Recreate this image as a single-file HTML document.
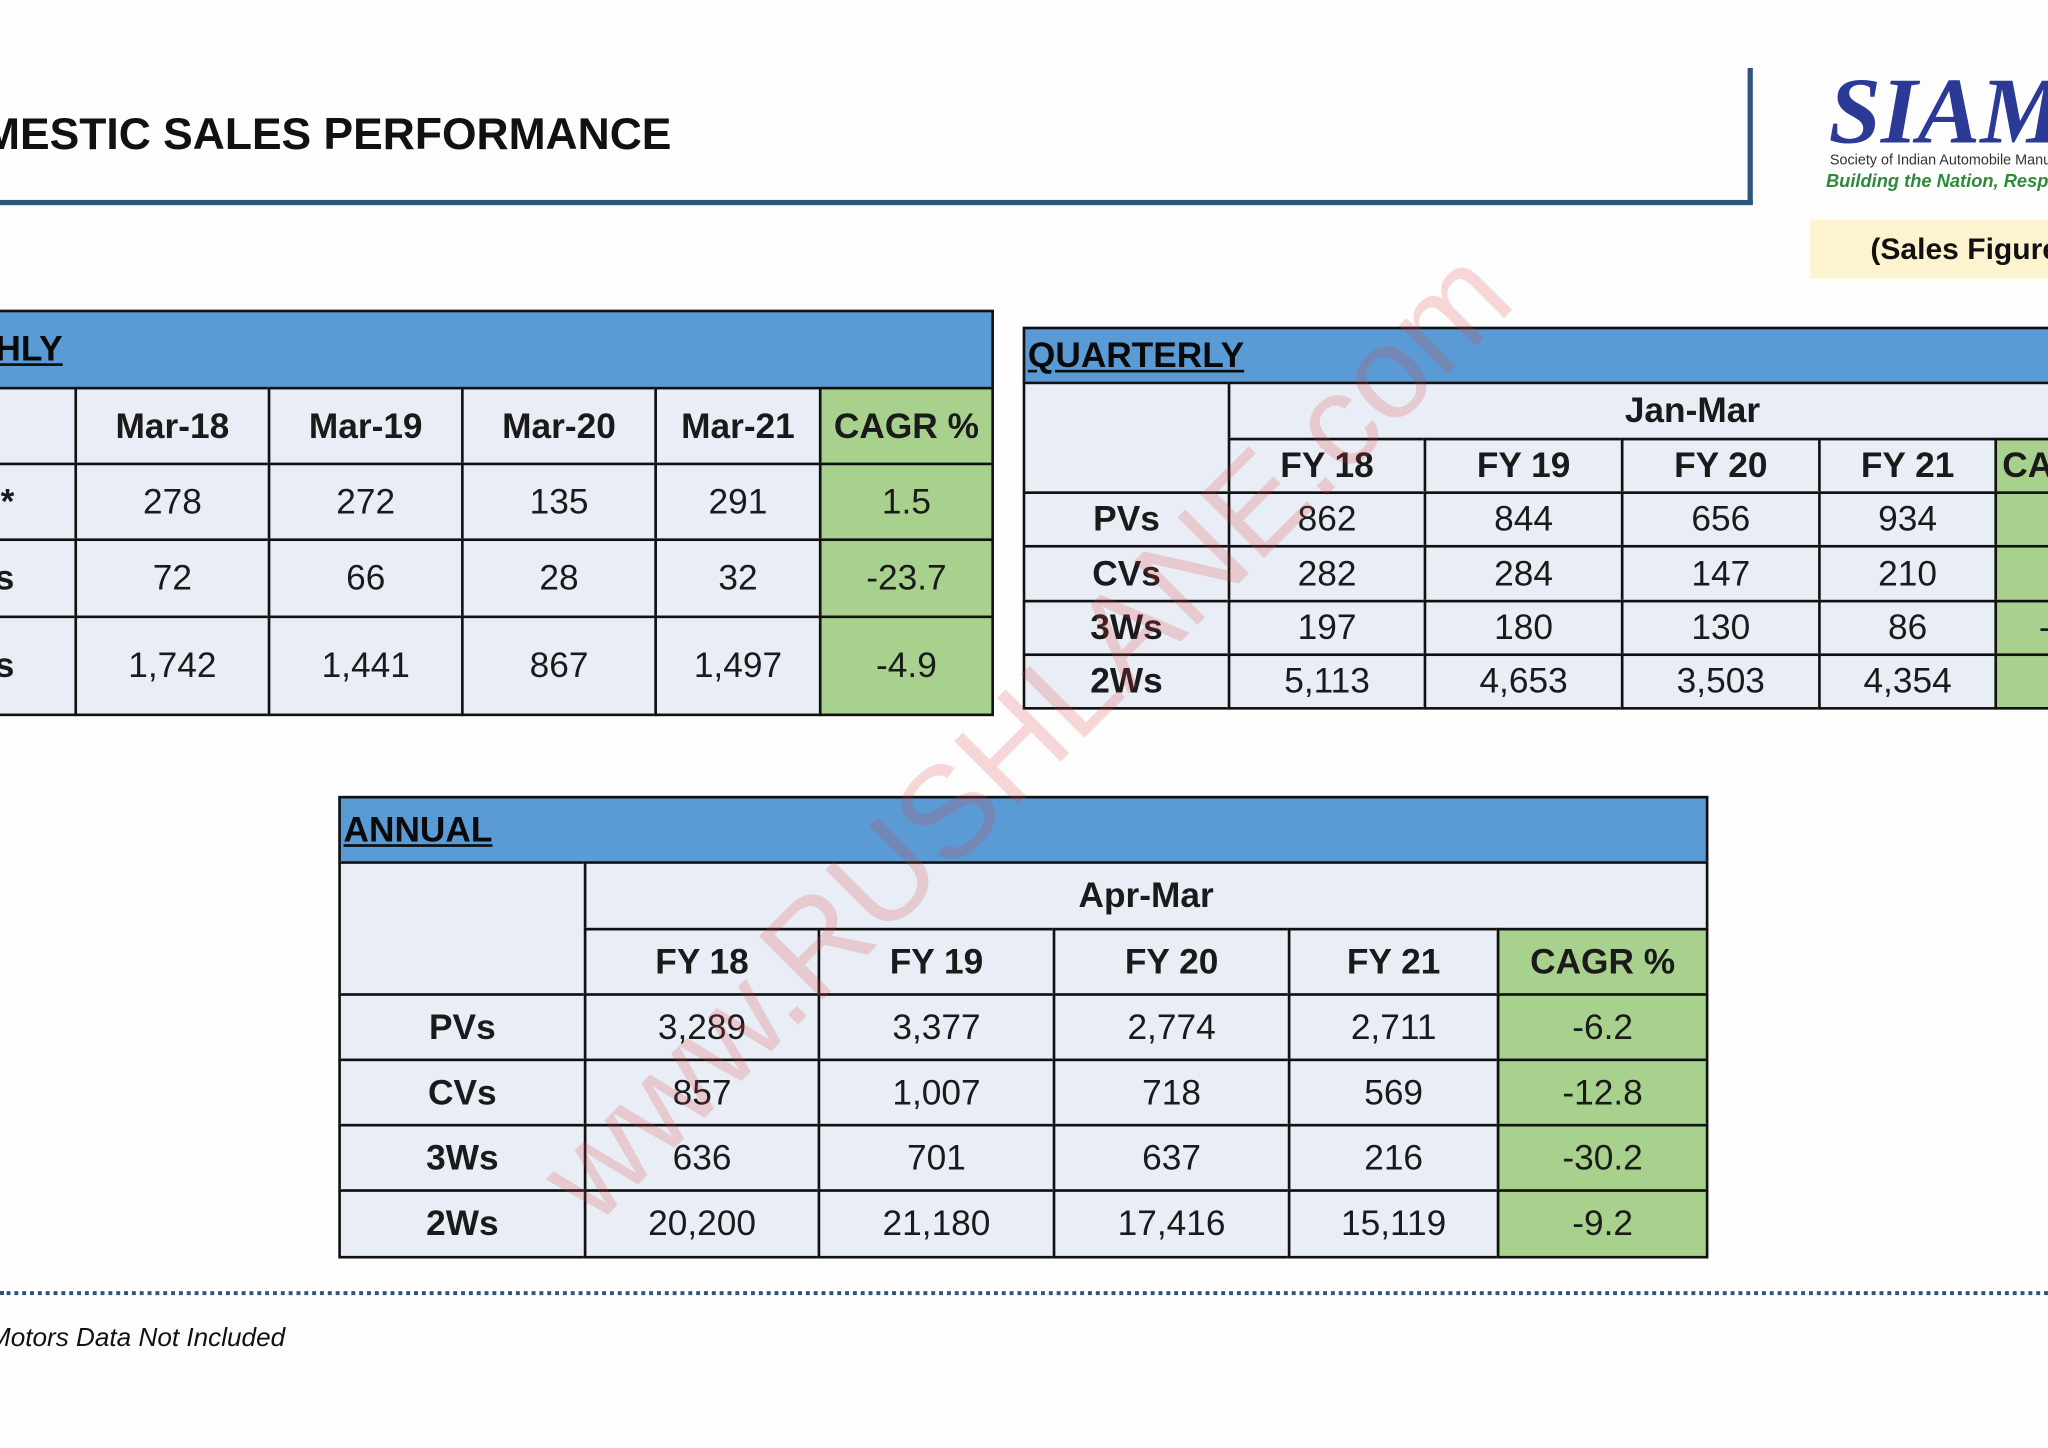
<!DOCTYPE html>
<html><head><meta charset="utf-8">
<style>
html,body{margin:0;padding:0;width:2048px;height:1448px;overflow:hidden;background:#fff;}
#stage{position:absolute;left:0;top:0;width:1568px;height:1108px;transform:scale(1.30612,1.30686);transform-origin:0 0;overflow:hidden;background:#fdfdfd;font-family:"Liberation Sans",Arial,sans-serif;}
.c{position:absolute;box-sizing:border-box;border:2px solid #111;background:#e9eef6;display:flex;align-items:center;justify-content:center;font-size:27px;color:#1a1a1a;white-space:nowrap;overflow:hidden;}
.b{font-weight:bold;}
.g{background:#a9d18e;}
.t{background:#5b9bd5;justify-content:flex-start;font-weight:bold;text-decoration:underline;padding-left:2px;color:#0a0a0a;}
</style></head><body>
<div id="stage">
  <div style="position:absolute;left:-64px;top:84px;font-size:34px;font-weight:bold;color:#111;white-space:nowrap;">DOMESTIC SALES PERFORMANCE</div>
  <div style="position:absolute;left:0;top:153px;width:1342px;height:4px;background:#2d5479;"></div>
  <div style="position:absolute;left:1338px;top:52px;width:4px;height:104px;background:#2d5479;"></div>
  <div style="position:absolute;left:1400px;top:44px;font-family:'Liberation Serif',serif;font-style:italic;font-weight:bold;font-size:72px;color:#2b3a96;white-space:nowrap;">SIAM</div>
  <div style="position:absolute;left:1401px;top:117px;font-size:11px;color:#333;white-space:nowrap;">Society of Indian Automobile Manufacturers</div>
  <div style="position:absolute;left:1398px;top:130px;font-size:14px;font-style:italic;font-weight:bold;color:#2e8b3a;white-space:nowrap;">Building the Nation, Responsibly</div>
  <div style="position:absolute;left:1386px;top:168px;width:200px;height:45px;background:#fdf3cf;font-size:23px;font-weight:bold;line-height:45px;padding-left:46px;box-sizing:border-box;color:#111;white-space:nowrap;overflow:hidden;">(Sales Figures in Thousands)</div>
  <div style="position:absolute;left:0;top:988px;width:1568px;border-top:3px dotted #2d5479;"></div>
  <div style="position:absolute;left:-60px;top:1013px;font-size:20px;font-style:italic;color:#111;white-space:nowrap;">*Tata Motors Data Not Included</div>
  <div id="tables"></div>
  <div style="position:absolute;left:285px;top:505px;font-size:100px;color:rgba(220,60,60,0.2);transform:rotate(-45deg);transform-origin:center;white-space:nowrap;width:1000px;text-align:center;">www.RUSHLANE.com</div>
</div>
<script>
const monthlyCols=["Mar-18","Mar-19","Mar-20","Mar-21"];
const monthlyRows=["PVs*","3Ws","2Ws"];
const monthlyVals=[["278","272","135","291"],["72","66","28","32"],["1,742","1,441","867","1,497"]];
const monthlyCagr=["1.5","-23.7","-4.9"];
const qCols=["FY 18","FY 19","FY 20","FY 21"];
const qRows=["PVs","CVs","3Ws","2Ws"];
const qVals=[["862","844","656","934"],["282","284","147","210"],["197","180","130","86"],["5,113","4,653","3,503","4,354"]];
const qCagr=["2.7","9.6","-23.7","5.2"];
const aRows=["PVs","CVs","3Ws","2Ws"];
const aVals=[["3,289","3,377","2,774","2,711"],["857","1,007","718","569"],["636","701","637","216"],["20,200","21,180","17,416","15,119"]];
const aCagr=["-6.2","-12.8","-30.2","-9.2"];
const host=document.getElementById('tables');
function cell(x1,y1,x2,y2,text,cls,name){
  const el=document.createElement('div');
  el.className='c '+(cls||'');
  el.style.left=(x1-1)+'px';el.style.top=(y1-1)+'px';
  el.style.width=(x2-x1+2)+'px';el.style.height=(y2-y1+2)+'px';
  el.textContent=text;
  
  
  host.appendChild(el);return el;
}
// Monthly
const mx=[58,206,354,502,628,760], my=[355,413,472,547];
const mt=cell(-60,238,760,297,"MONTHLY","t","monthly-title");mt.style.paddingLeft='0';mt.style.textIndent='-24px';
cell(-60,297,58,355,"","","monthly-corner");
monthlyCols.forEach((c,i)=>cell(mx[i],297,mx[i+1],355,c,"b","monthly-header-"+c));
cell(628,297,760,355,"CAGR %","b g","monthly-header-cagr");
monthlyRows.forEach((r,j)=>{
  const l=cell(-60,my[j],58,my[j+1],r,"b","monthly-row-label");
  l.style.justifyContent='flex-end';l.style.paddingRight='46px';
  monthlyVals[j].forEach((v,i)=>cell(mx[i],my[j],mx[i+1],my[j+1],v,"","monthly-value"));
  cell(628,my[j],760,my[j+1],monthlyCagr[j],"g","monthly-cagr");
});
// Quarterly
const qx=[941,1091,1242,1393,1528], qy=[377,418,460,501,542];
cell(784,251,1700,293,"QUARTERLY","t","quarterly-title");
cell(784,293,941,377,"","","quarterly-corner");
cell(941,293,1700,336,"Jan-Mar","b","quarterly-period");
const jm=host.lastChild;jm.style.justifyContent='flex-start';jm.style.paddingLeft='302px';
qCols.forEach((c,i)=>cell(qx[i],336,qx[i+1],377,c,"b","quarterly-header-"+c));
const qc=cell(1528,336,1680,377,"CAGR %","b g","quarterly-header-cagr");qc.style.justifyContent='flex-start';qc.style.paddingLeft='4px';
qRows.forEach((r,j)=>{
  cell(784,qy[j],941,qy[j+1],r,"b","quarterly-row-label");
  qVals[j].forEach((v,i)=>cell(qx[i],qy[j],qx[i+1],qy[j+1],v,"","quarterly-value"));
  const g=cell(1528,qy[j],1680,qy[j+1],qCagr[j],"g","quarterly-cagr");g.style.justifyContent='flex-start';g.style.paddingLeft=(qCagr[j][0]==='-'?'32px':'44px');
});
// Annual
const ax=[448,627,807,987,1147], ay=[761,811,861,911,962];
cell(260,610,1307,660,"ANNUAL","t","annual-title");
cell(260,660,448,761,"","","annual-corner");
cell(448,660,1307,711,"Apr-Mar","b","annual-period");
qCols.forEach((c,i)=>cell(ax[i],711,ax[i+1],761,c,"b","annual-header-"+c));
cell(1147,711,1307,761,"CAGR %","b g","annual-header-cagr");
aRows.forEach((r,j)=>{
  cell(260,ay[j],448,ay[j+1],r,"b","annual-row-label");
  aVals[j].forEach((v,i)=>cell(ax[i],ay[j],ax[i+1],ay[j+1],v,"","annual-value"));
  cell(1147,ay[j],1307,ay[j+1],aCagr[j],"g","annual-cagr");
});
</script>
</body></html>
